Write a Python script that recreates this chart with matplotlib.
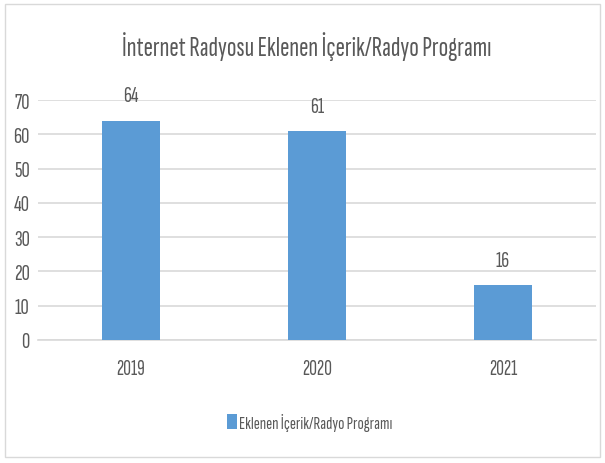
import matplotlib.pyplot as plt
from matplotlib.patches import Rectangle

years = ["2019", "2020", "2021"]
values = [64, 61, 16]
series_name = "Eklenen İçerik/Radyo Programı"
title = "İnternet Radyosu Eklenen İçerik/Radyo Programı"
yticks = [0, 10, 20, 30, 40, 50, 60, 70]

plt.rcParams['font.family'] = ['Sofia Sans Extra Condensed', 'DejaVu Sans']
text_color = '#595959'
bar_color = '#5B9BD5'

fig = plt.figure(figsize=(6.05, 4.64), dpi=100)
# chart border
fig.patches.append(Rectangle((5 / 605, 1 - 458 / 464), 595 / 605, 453 / 464,
                             transform=fig.transFigure, fill=False,
                             edgecolor='#D9D9D9', linewidth=1))

ax = fig.add_axes([38 / 605, 1 - 341 / 464, 558 / 605, 240 / 464])
x = list(range(len(years)))
bars = ax.bar(x, values, width=0.31, color=bar_color, label=series_name, zorder=3)
ax.set_xlim(-0.5, len(years) - 0.5)
ax.set_ylim(0, 70)
ax.set_yticks(yticks)
ax.set_xticks(x)
ax.set_xticklabels(years)
ax.yaxis.grid(True, color='#D9D9D9', linewidth=1.2, zorder=0)
for s in ax.spines.values():
    s.set_visible(False)
ax.spines['bottom'].set_visible(True)
ax.spines['bottom'].set_color('#D9D9D9')
ax.spines['bottom'].set_linewidth(1.2)
ax.tick_params(axis='both', length=0, colors=text_color)
ax.tick_params(axis='x', pad=14, labelsize=15.5)
ax.tick_params(axis='y', pad=6, labelsize=16.5)

# value labels above the bars
for rect, v in zip(bars, values):
    ax.text(rect.get_x() + rect.get_width() / 2, v + 7.2, str(v),
            ha='center', va='center', fontsize=16, color=text_color)

fig.text(307 / 605, 1 - 47 / 464, title, ha='center', va='center',
         fontsize=20.2, color=text_color)

fig.legend(loc='center', bbox_to_anchor=(310 / 605, 1 - 423 / 464),
           frameon=False, fontsize=13.2, handlelength=0.5, handleheight=0.85,
           handletextpad=0.15, labelcolor=text_color)

fig.savefig('out.png', dpi=100, facecolor='white')
